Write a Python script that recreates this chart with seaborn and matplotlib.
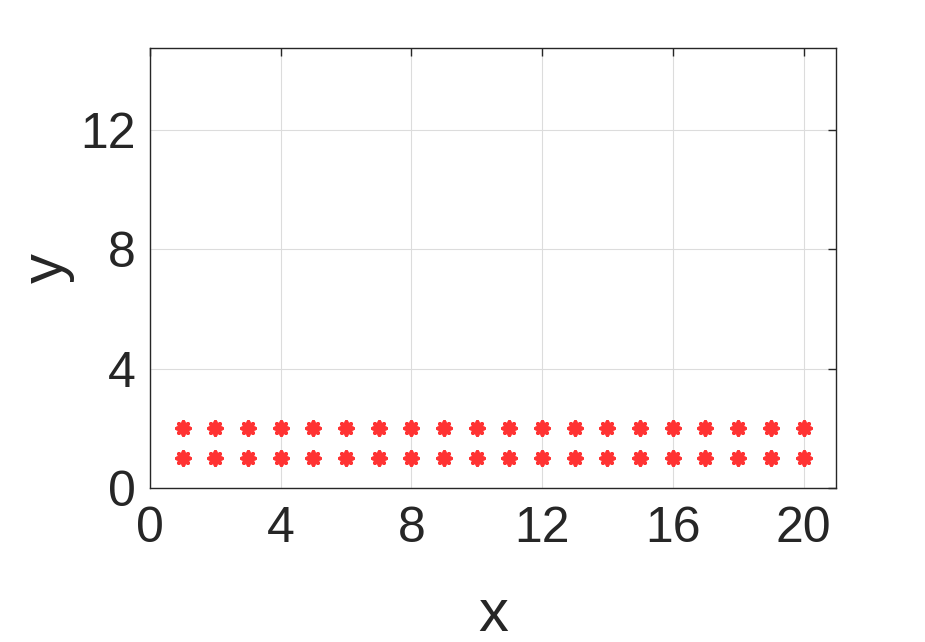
import pandas as pd
import matplotlib
matplotlib.use("Agg")
import matplotlib.pyplot as plt
import seaborn as sns

# data
x_vals = [1, 2, 3, 4, 5, 6, 7, 8, 9, 10, 11, 12, 13, 14, 15, 16, 17, 18, 19, 20]
y_row1 = [1, 1, 1, 1, 1, 1, 1, 1, 1, 1, 1, 1, 1, 1, 1, 1, 1, 1, 1, 1]
y_row2 = [2, 2, 2, 2, 2, 2, 2, 2, 2, 2, 2, 2, 2, 2, 2, 2, 2, 2, 2, 2]
x_ticks = [0, 4, 8, 12, 16, 20]
y_ticks = [0, 4, 8, 12]

df = pd.DataFrame({
    "x": x_vals + x_vals,
    "y": y_row1 + y_row2,
})

sns.set_theme(style="white")
plt.rcParams['font.family'] = ['Liberation Sans', 'DejaVu Sans']

fig = plt.figure(figsize=(9.25, 6.42), dpi=100)
ax = fig.add_axes([0.162, 0.240, 0.742, 0.685])

sns.scatterplot(data=df, x="x", y="y", ax=ax, marker=(8, 2, 0),
                color="#ff3333", s=85, linewidth=2.8, zorder=3)

ax.set_xlim(0, 21)
ax.set_ylim(0, 14.75)
ax.set_xticks(x_ticks)
ax.set_yticks(y_ticks)
ax.grid(True, color="#dcdcdc", linewidth=0.8)
ax.set_axisbelow(True)

for s in ax.spines.values():
    s.set_color("#262626")
    s.set_linewidth(1.0)

ax.tick_params(direction="in", length=6, width=1, color="#262626",
               top=True, right=True, labelsize=36, labelcolor="#262626")
ax.tick_params(axis="x", pad=13)
ax.tick_params(axis="y", pad=10)

ax.set_xlabel("x", fontsize=43, color="#262626", labelpad=26)
ax.set_ylabel("y", fontsize=43, color="#262626", labelpad=4)

plt.savefig("out.png", dpi=100)
